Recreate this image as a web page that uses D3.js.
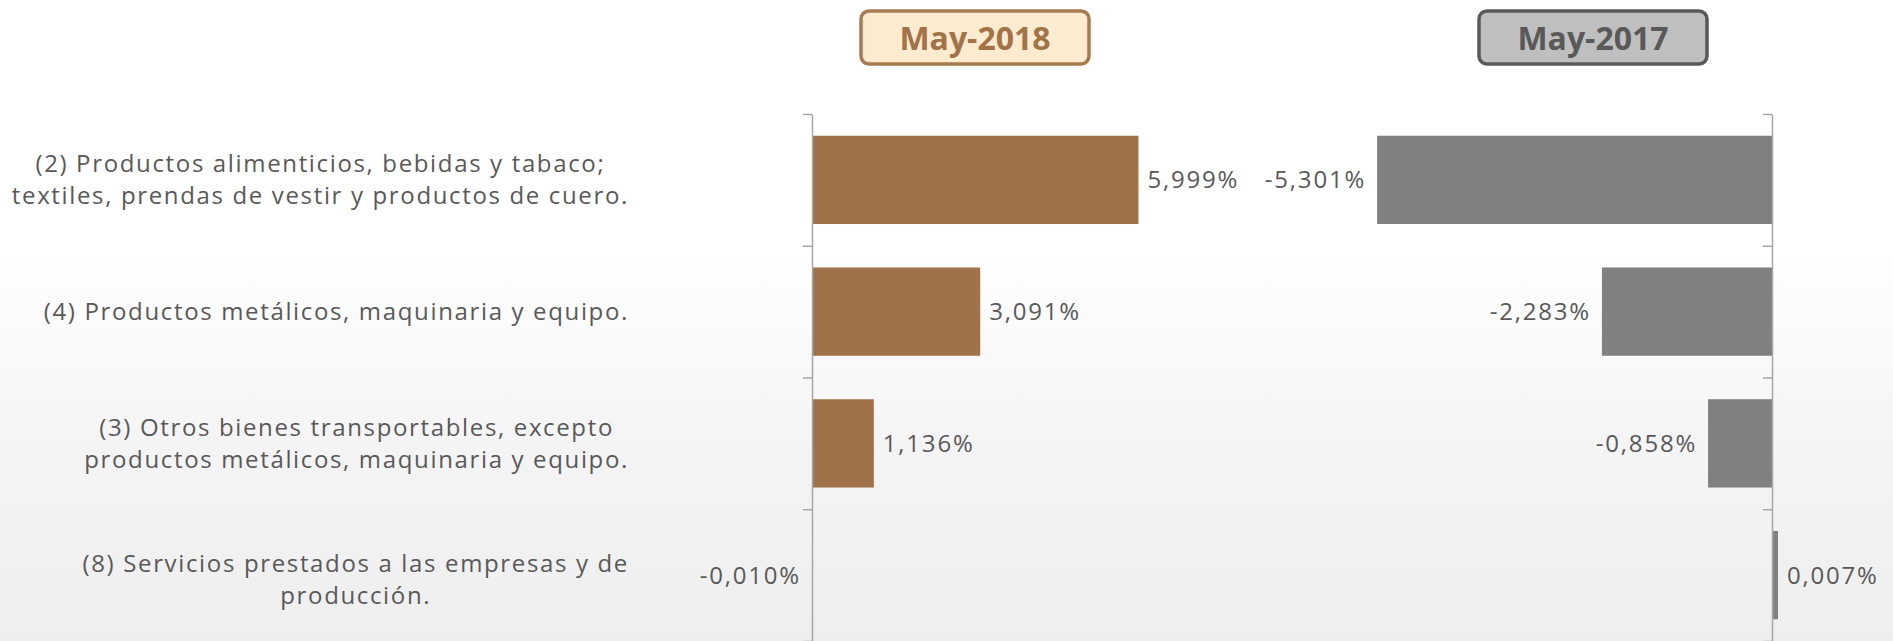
<!DOCTYPE html>
<html>
<head>
<meta charset="utf-8">
<script src="https://cdn.jsdelivr.net/npm/d3@7"></script>
<style>
  html, body { margin: 0; padding: 0; background: #fff; }
  svg { display: block; }
  text { font-family: "Open Sans", "Noto Sans", sans-serif; }
</style>
</head>
<body>
<div id="chart"></div>
<script>
// --- DATA ---
const categories = [
    ["(2) Productos alimenticios, bebidas y tabaco;", "textiles, prendas de vestir y productos de cuero."],
    ["(4) Productos metálicos, maquinaria y equipo."],
    ["(3) Otros bienes transportables, excepto", "productos metálicos, maquinaria y equipo."],
    ["(8) Servicios prestados a las empresas y de", "producción."]
];
const values2018 = [5.999, 3.091, 1.136, -0.010];
const values2017 = [-5.301, -2.283, -0.858, 0.007];
const periods = ["May-2018", "May-2017"];

const width = 1893, height = 641;
const labelRight = 629;      // right edge of category text block
const gap = 9;               // space between bar end and value label
const minBar = 6;            // tiny positive bars are still drawn this wide

const fmt = v => d3.format(".3f")(v).replace("−", "-").replace(".", ",") + "%";

const svg = d3.select("#chart").append("svg")
    .attr("width", width)
    .attr("height", height);

// --- background (soft grey fade at the bottom) ---
const defs = svg.append("defs");
const bg = defs.append("linearGradient")
    .attr("id", "bg").attr("x1", 0).attr("y1", 0).attr("x2", 0).attr("y2", 1);
bg.append("stop").attr("offset", "0.38").attr("stop-color", "#ffffff");
bg.append("stop").attr("offset", "0.7").attr("stop-color", "#f4f4f4");
bg.append("stop").attr("offset", "1").attr("stop-color", "#eeeeee");
svg.append("rect").attr("width", width).attr("height", height).attr("fill", "url(#bg)");

// --- SCALES ---
const yIdx = d3.scaleLinear().domain([0, categories.length]).range([114, 641]);
const yBand = d3.scaleBand()
    .domain(d3.range(categories.length))
    .range(yIdx.range())
    .paddingInner(0.33).paddingOuter(0.165);

const xLeft = d3.scaleLinear().domain([0, 6]).range([812, 1138.5]);
const xRight = d3.scaleLinear().domain([-6, 0]).range([1325, 1772]);

// --- CATEGORY LABELS ---
const catG = svg.append("g");
categories.forEach((lines, i) => {
    const cy = yBand(i) + yBand.bandwidth() / 2 + (i === 3 ? 4 : 0);
    const lh = 32;
    const t = catG.append("text")
        .attr("font-size", 24)
        .attr("letter-spacing", 1.65)
        .attr("fill", "#595959")
        .attr("text-anchor", "middle");
    const spans = lines.map((ln, j) => t.append("tspan")
        .attr("y", cy + (j - (lines.length - 1) / 2) * lh)
        .attr("dy", "0.35em")
        .text(ln));
    const maxW = d3.max(spans, s => s.node().getComputedTextLength());
    spans.forEach(s => s.attr("x", labelRight - maxW / 2));
});

// --- PANELS ---
function panel(values, x, color) {
    const zero = x(0);
    const g = svg.append("g");
    // drawn length of a bar: below one pixel, positives keep a thin sliver, negatives vanish
    const len = d => {
        const w = Math.abs(x(d) - zero);
        return w >= 1 ? w : (d > 0 ? minBar : 0);
    };

    g.selectAll("rect.bar")
        .data(values)
        .enter().append("rect")
        .attr("class", "bar")
        .attr("x", d => d >= 0 ? zero : zero - len(d))
        .attr("y", (d, i) => yBand(i))
        .attr("width", len)
        .attr("height", yBand.bandwidth())
        .attr("fill", color);

    g.selectAll("text.val")
        .data(values)
        .enter().append("text")
        .attr("class", "val")
        .attr("font-size", 24)
        .attr("letter-spacing", 1.8)
        .attr("fill", "#595959")
        .attr("text-anchor", d => d >= 0 ? "start" : "end")
        .attr("x", d => d >= 0 ? zero + len(d) + gap : zero - len(d) - gap - 2)
        .attr("y", (d, i) => yBand(i) + yBand.bandwidth() / 2)
        .attr("dy", "0.35em")
        .text(fmt);

    // vertical category axis, ticks at band boundaries
    const axis = g.append("g")
        .attr("transform", `translate(${zero},0)`)
        .call(d3.axisLeft(yIdx).ticks(categories.length).tickSize(9).tickSizeOuter(0).tickFormat(""));
    axis.select(".domain").attr("stroke", "#a6a6a6").attr("stroke-width", 1.5);
    axis.selectAll(".tick line").attr("stroke", "#a6a6a6").attr("stroke-width", 1.5);
}

panel(values2018, xLeft, "#a07249");
panel(values2017, xRight, "#808080");

// --- PERIOD HEADERS ---
const heads = [
    { x: 861, fill: "#fdebd0", stroke: "#a87a4f", text: "#a27248" },
    { x: 1479, fill: "#bfbfbf", stroke: "#595959", text: "#595959" }
];
heads.forEach((h, i) => {
    const g = svg.append("g");
    g.append("rect")
        .attr("x", h.x).attr("y", 11)
        .attr("width", 228).attr("height", 53)
        .attr("rx", 8)
        .attr("fill", h.fill)
        .attr("stroke", h.stroke)
        .attr("stroke-width", 3.5);
    g.append("text")
        .attr("x", h.x + 114).attr("y", 38)
        .attr("dy", "0.36em")
        .attr("text-anchor", "middle")
        .attr("font-size", 32)
        .attr("font-weight", "bold")
        .attr("fill", h.text)
        .text(periods[i]);
});
</script>
</body>
</html>
